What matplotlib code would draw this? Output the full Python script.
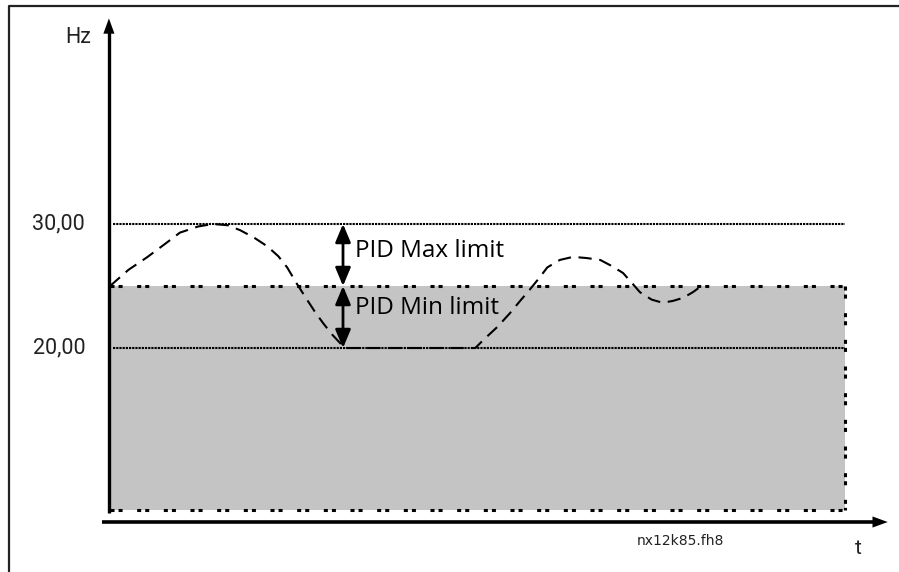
import matplotlib
matplotlib.use("Agg")
import matplotlib.pyplot as plt
from matplotlib.patches import Rectangle

plt.rcParams['lines.scale_dashes'] = False

# frequency reference curve (t in % of window, Hz)
curve_t = [0, 2.5, 5, 7.5, 9.5, 12, 14, 16, 17.7, 19.6, 21.4, 22.9, 24.1, 25.4, 26.8,
           27.9, 29, 30.2, 31.3, 31.8, 49.7, 50.8, 52.7, 54.4, 55.8, 57.1, 58.4, 59.5,
           61.2, 63, 64.9, 66.7, 68.3, 69.8, 71, 72.1, 73.7, 75.2, 76.6, 78, 79.3, 80.7]
curve_hz = [25.0, 26.3, 27.3, 28.4, 29.3, 29.8, 30.0, 29.9, 29.5, 28.9, 28.2, 27.4, 26.5,
            25.2, 23.9, 22.9, 22.0, 21.1, 20.4, 20.0, 20.0, 20.65, 21.7, 22.8, 23.8, 24.7,
            25.65, 26.5, 27.1, 27.35, 27.25, 27.1, 26.6, 26.05, 25.25, 24.5, 23.9, 23.65,
            23.8, 24.05, 24.5, 25.1]

max_hz = 30.0
min_hz = 20.0
setpoint_hz = 25.0
band_low = 6.95
tick_labels = ['30,00', '20,00']
limit_labels = ['PID Max limit', 'PID Min limit']

fig = plt.figure(figsize=(8.99, 5.72), dpi=100)
ax = fig.add_axes([0, 0, 1, 1])
ax.set_xlim(-14.97, 107.35)
ax.set_ylim(1.94, 48.06)
ax.axis('off')

# outer frame (left and top only visible)
ax.plot([9 / 899, 9 / 899, 1], [0, 1 - 6 / 572, 1 - 6 / 572], color='#222222',
        lw=1.6, transform=ax.transAxes, clip_on=False)

# grey band
ax.add_patch(Rectangle((0, band_low), 100, setpoint_hz - band_low,
                       facecolor='#c4c4c4', edgecolor='none', zorder=1))
band_dash = (0, (2.9, 2.9, 2.9, 10.5))
ax.plot([0, 100], [setpoint_hz, setpoint_hz], color='black', lw=2.2,
        linestyle=band_dash, dash_capstyle='butt', zorder=2)
ax.plot([100, 100], [setpoint_hz, band_low], color='black', lw=2.2,
        linestyle=band_dash, dash_capstyle='butt', zorder=2)
ax.plot([0, 100], [band_low, band_low], color='black', lw=2.2,
        linestyle=band_dash, dash_capstyle='butt', zorder=2)

# limit lines
for hz in (max_hz, min_hz):
    ax.plot([0.4, 100], [hz, hz], color='black', lw=1.5,
            linestyle=(0, (1.6, 0.7)), dash_capstyle='butt', zorder=3)

# reference curve
ax.plot(curve_t, curve_hz, color='black', lw=1.5,
        linestyle=(0, (9.5, 5.5)), dash_capstyle='butt', zorder=4)

# axes arrows
ax.plot([-0.15, -0.15], [6.7, 45.6], color='black', lw=2.4, zorder=5,
        solid_capstyle='butt')
ax.annotate('', xy=(-0.15, 46.8), xytext=(-0.15, 44.0),
            arrowprops=dict(arrowstyle='-|>,head_length=1.1,head_width=0.4',
                            color='black', lw=0, mutation_scale=10), zorder=5)
ax.plot([-1.1, 105], [5.97, 5.97], color='black', lw=2.6, zorder=5,
        solid_capstyle='butt')
ax.annotate('', xy=(106.2, 5.97), xytext=(103.0, 5.97),
            arrowprops=dict(arrowstyle='-|>,head_length=1.1,head_width=0.4',
                            color='black', lw=0, mutation_scale=10), zorder=5)

# PID limit arrows
arrow_t = 31.7
for top, bottom in ((max_hz, setpoint_hz), (setpoint_hz, min_hz)):
    ax.annotate('', xy=(arrow_t, top), xytext=(arrow_t, bottom),
                arrowprops=dict(arrowstyle='<|-|>,head_length=1.0,head_width=0.42',
                                color='black', lw=2.0, mutation_scale=11,
                                shrinkA=0, shrinkB=0), zorder=6)

font = 'Roboto'
ax.text(-3.4, max_hz, tick_labels[0], ha='right', va='center', fontsize=15.5,
        family=font, color='#222222')
ax.text(-3.3, min_hz, tick_labels[1], ha='right', va='center', fontsize=15.5,
        family=font, color='#222222')
ax.text(-4.35, 45.0, 'Hz', ha='center', va='center', fontsize=15.5,
        family=font, color='#222222')
ax.text(33.3, 27.8, limit_labels[0], ha='left', va='center', fontsize=17.5,
        family='Open Sans', color='black')
ax.text(33.3, 23.2, limit_labels[1], ha='left', va='center', fontsize=17.5,
        family='Open Sans', color='black')
ax.text(77.6, 4.44, 'nx12k85.fh8', ha='center', va='center', fontsize=10,
        family=['Liberation Sans Narrow', 'DejaVu Sans'], color='#222222')
ax.text(101.8, 3.8, 't', ha='center', va='center', fontsize=15,
        family=font, color='#222222')

fig.savefig('out.png', dpi=100)
